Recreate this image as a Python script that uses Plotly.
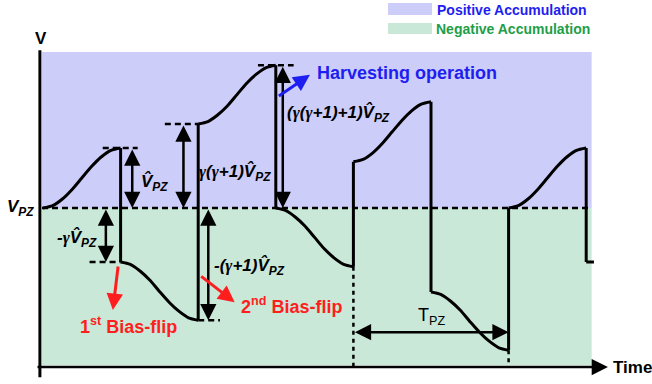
import plotly.graph_objects as go

# ---------------- data (time in half-periods T_PZ/2, voltage relative to V_PZ in units of V̂_PZ)
T8 = [0, 0.125, 0.25, 0.375, 0.5, 0.625, 0.75, 0.875, 1.0]
curve_t = ([0 + s for s in T8] + [None] + [1 + s for s in T8] + [None] +
           [2 + s for s in T8] + [None] + [3 + s for s in T8] + [None] +
           [4 + s for s in T8] + [None] + [5 + s for s in T8] + [None] +
           [6 + s for s in T8] + [None] + [7, 7.1])
curve_v = [0, 0.04, 0.15, 0.31, 0.5, 0.69, 0.85, 0.96, 1.0, None,
           -0.9, -0.94, -1.05, -1.2, -1.39, -1.57, -1.72, -1.83, -1.87, None,
           1.4, 1.44, 1.55, 1.7, 1.89, 2.08, 2.23, 2.34, 2.38, None,
           0, -0.04, -0.15, -0.3, -0.49, -0.68, -0.83, -0.94, -0.98, None,
           0.77, 0.81, 0.92, 1.08, 1.27, 1.46, 1.62, 1.73, 1.77, None,
           -1.4, -1.44, -1.55, -1.7, -1.89, -2.07, -2.22, -2.33, -2.37, None,
           0, 0.04, 0.15, 0.31, 0.5, 0.69, 0.85, 0.96, 1.0, None,
           -0.9, -0.9]

jump_t = [1, 1, None, 2, 2, None, 3, 3, None, 4, 4, None, 5, 5, None, 6, 6, None, 7, 7]
jump_v = [1.0, -0.9, None, -1.87, 1.4, None, 2.38, 0, None, -0.98, 0.77, None,
          1.77, -1.4, None, -2.37, 0, None, 1.0, -0.9]

level_t = [0.77, 1.22, None, 0.6, 1.0, None, 1.57, 2.0, None, 2.77, 3.23, None, 2.0, 2.28]
level_v = [1.0, 1.0, None, -0.9, -0.9, None, 1.4, 1.4, None, 2.38, 2.38, None, -1.87, -1.87]

marker_t = [4, 4, None, 6, 6]
marker_v = [-0.98, -2.65, None, -2.37, -2.65]

arrow_t = [1.15, 0.81, 1.81, 2.13, 3.09]
arrow_top = [1.0, 0.0, 1.4, 0.0, 2.38]
arrow_bot = [0.0, -0.9, 0.0, -1.87, 0.0]

period_start, period_end, period_v = 4, 6, -2.07

G = "<span style=\"font-family:'Liberation Serif'\">γ</span>"
VH = "V\u0302<sub>PZ</sub>"
label_text = [VH, "-" + G + VH, G + "(" + G + "+1)" + VH,
              "-(" + G + "+1)" + VH, "(" + G + "(" + G + "+1)+1)" + VH]
label_t = [1.24, 0.72, 1.98, 2.18, 3.12]
label_v = [0.42, -0.5, 0.6, -0.98, 1.58]
label_anchor = ["left", "right", "left", "left", "left"]

PURPLE = "#CDCDFA"
GREEN = "#C9E8D8"
BLUE = "#1E1EF0"
GRN_T = "#1E9E48"
RED = "#FF1E1E"

fig = go.Figure()

# background regions
fig.add_shape(type="rect", x0=-0.013, x1=7.07, y0=0, y1=2.6, fillcolor=PURPLE,
              line_width=0, layer="below")
fig.add_shape(type="rect", x0=-0.013, x1=7.07, y0=-2.62, y1=0, fillcolor=GREEN,
              line_width=0, layer="below")

# V_PZ dashed reference
fig.add_trace(go.Scatter(x=[-0.013, 7.07], y=[0, 0], mode="lines",
                         line=dict(color="black", width=2.5, dash="6px,4px"),
                         hoverinfo="skip"))
# level markers
fig.add_trace(go.Scatter(x=level_t, y=level_v, mode="lines",
                         line=dict(color="black", width=2.5, dash="6px,4px"),
                         hoverinfo="skip"))
fig.add_trace(go.Scatter(x=marker_t, y=marker_v, mode="lines",
                         line=dict(color="black", width=2.5, dash="4px,4px"),
                         hoverinfo="skip"))
# waveform
fig.add_trace(go.Scatter(x=curve_t, y=curve_v, mode="lines",
                         line=dict(color="black", width=3, shape="spline", smoothing=0.8),
                         connectgaps=False, hoverinfo="skip"))
fig.add_trace(go.Scatter(x=jump_t, y=jump_v, mode="lines",
                         line=dict(color="black", width=3),
                         connectgaps=False, hoverinfo="skip"))

# axes
fig.add_trace(go.Scatter(x=[-0.04, -0.04], y=[-2.82, 2.63], mode="lines",
                         line=dict(color="black", width=3), hoverinfo="skip"))
fig.add_annotation(x=7.28, y=-2.65, ax=-0.09, ay=-2.65, axref="x", ayref="y",
                   xref="x", yref="y", text="", showarrow=True, arrowhead=2,
                   arrowsize=1.3, arrowwidth=2.5, arrowcolor="black", standoff=0)

# double arrows
for t, top, bot in zip(arrow_t, arrow_top, arrow_bot):
    fig.add_annotation(x=t, y=bot, ax=t, ay=top, axref="x", ayref="y",
                       xref="x", yref="y", text="", showarrow=True,
                       arrowhead=2, arrowside="end+start", arrowsize=1.3,
                       arrowwidth=2.5, arrowcolor="black", standoff=0, startstandoff=0)
# period arrow
fig.add_annotation(x=period_end, y=period_v, ax=period_start, ay=period_v, axref="x",
                   ayref="y", xref="x", yref="y", text="", showarrow=True,
                   arrowhead=2, arrowside="end+start", arrowsize=1.3, arrowwidth=2.5,
                   arrowcolor="black", standoff=0, startstandoff=0)
fig.add_annotation(x=5, y=-1.8, text="T<sub>PZ</sub>", showarrow=False,
                   yanchor="middle",
                   font=dict(family="Liberation Sans", size=18, color="black"))

# colored callout arrows
fig.add_annotation(x=0.90, y=-1.70, ax=0.97, ay=-0.95, axref="x", ayref="y",
                   text="", showarrow=True, arrowhead=2, arrowsize=1.1, arrowwidth=3,
                   arrowcolor=RED, standoff=0)
fig.add_annotation(x=2.47, y=-1.57, ax=2.02, ay=-1.12, axref="x", ayref="y",
                   text="", showarrow=True, arrowhead=2, arrowsize=1.1, arrowwidth=3,
                   arrowcolor=RED, standoff=0)
fig.add_annotation(x=3.44, y=2.22, ax=3.02, ay=1.85, axref="x", ayref="y",
                   text="", showarrow=True, arrowhead=2, arrowsize=1.1, arrowwidth=3,
                   arrowcolor=BLUE, standoff=0)

# labels
for txt, t, v, anc in zip(label_text, label_t, label_v, label_anchor):
    fig.add_annotation(x=t, y=v, text="<b><i>" + txt + "</i></b>", showarrow=False,
                       xanchor=anc, yanchor="middle",
                       font=dict(family="Liberation Sans", size=17, color="black"))

fig.add_annotation(x=0.45, y=-1.95, text="<b>1<sup>st</sup> Bias-flip</b>",
                   showarrow=False, xanchor="left", yanchor="middle",
                   font=dict(family="Liberation Sans", size=18, color=RED))
fig.add_annotation(x=2.52, y=-1.62, text="<b>2<sup>nd</sup> Bias-flip</b>",
                   showarrow=False, xanchor="left", yanchor="middle",
                   font=dict(family="Liberation Sans", size=18, color=RED))
fig.add_annotation(x=3.5, y=2.25, text="<b>Harvesting operation</b>",
                   showarrow=False, xanchor="left", yanchor="middle",
                   font=dict(family="Liberation Sans", size=18, color=BLUE))

# axis titles
fig.add_annotation(xref="paper", yref="paper", x=41 / 652, y=1 - 38 / 384, text="<b>V</b>",
                   showarrow=False, xanchor="center", yanchor="middle",
                   font=dict(family="Liberation Sans", size=17, color="black"))
fig.add_annotation(xref="paper", yref="paper", x=5 / 652, y=1 - 208 / 384,
                   text="<b><i>V<sub>PZ</sub></i></b>", showarrow=False, xanchor="left",
                   yanchor="middle",
                   font=dict(family="Liberation Sans", size=17, color="black"))
fig.add_annotation(xref="paper", yref="paper", x=611 / 652, y=1 - 367 / 384,
                   text="<b>Time</b>", showarrow=False, xanchor="left", yanchor="middle",
                   font=dict(family="Liberation Sans", size=17, color="black"))

# legend
fig.add_shape(type="rect", xref="paper", yref="paper", x0=388 / 652, x1=432 / 652,
              y0=1 - 15 / 384, y1=1 - 3 / 384, fillcolor=PURPLE, line_width=0)
fig.add_shape(type="rect", xref="paper", yref="paper", x0=388 / 652, x1=432 / 652,
              y0=1 - 34 / 384, y1=1 - 23 / 384, fillcolor=GREEN, line_width=0)
fig.add_annotation(xref="paper", yref="paper", x=435 / 652, y=1 - 9.5 / 384,
                   text="<b>Positive Accumulation</b>", showarrow=False, xanchor="left",
                   yanchor="middle",
                   font=dict(family="Liberation Sans", size=14, color=BLUE))
fig.add_annotation(xref="paper", yref="paper", x=434 / 652, y=1 - 28.5 / 384,
                   text="<b>Negative Accumulation</b>", showarrow=False, xanchor="left",
                   yanchor="middle",
                   font=dict(family="Liberation Sans", size=14, color=GRN_T))

fig.update_layout(
    width=652, height=384, margin=dict(l=0, r=0, t=0, b=0),
    paper_bgcolor="white", plot_bgcolor="white", showlegend=False,
    xaxis=dict(range=[-43 / 77.6, (652 - 43) / 77.6], visible=False, fixedrange=True),
    yaxis=dict(range=[(208 - 384) / 60, 208 / 60], visible=False, fixedrange=True),
)

fig.write_html("out.html")
